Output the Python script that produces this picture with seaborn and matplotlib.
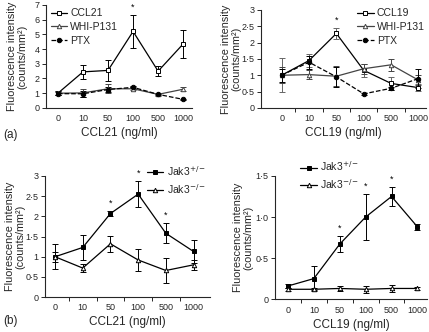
import numpy as np
import pandas as pd
import matplotlib
matplotlib.use("Agg")
import matplotlib.pyplot as plt
import matplotlib.transforms as mtransforms
import seaborn as sns

sns.set_theme(style="ticks")
plt.rcParams["font.family"] = ["Liberation Sans", "DejaVu Sans"]

doses = ["0", "10", "50", "100", "500", "1000"]

# (a) left: CCL21 stimulation
a21_ccl = [1.0, 2.45, 2.55, 5.2, 2.5, 4.35]
a21_ccl_err = [0.15, 0.5, 0.72, 1.12, 0.35, 0.97]
a21_whi = [1.0, 1.02, 1.3, 1.3, 0.92, 1.27]
a21_whi_err = [0.12, 0.28, 0.32, 0.1, 0.08, 0.15]
a21_ptx = [0.97, 0.96, 1.25, 1.4, 0.92, 0.58]
a21_ptx_err = [0.1, 0.2, 0.2, 0.08, 0.05, 0.04]

# (a) right: CCL19 stimulation
a19_ccl = [1.0, 1.45, 2.28, 1.15, 0.75, 0.62]
a19_ccl_err = [0.52, 0.2, 0.18, 0.2, 0.2, 0.1]
a19_whi = [1.0, 1.02, 0.97, 1.2, 1.32, 0.85]
a19_whi_err = [0.25, 0.15, 0.3, 0.15, 0.18, 0.15]
a19_ptx = [1.0, 1.4, 0.95, 0.43, 0.6, 0.9]
a19_ptx_err = [0.2, 0.2, 0.3, 0.03, 0.05, 0.3]

# (b) left: Jak3 genotypes, CCL21
b21_het = [1.0, 1.23, 2.07, 2.55, 1.58, 1.13]
b21_het_err = [0.31, 0.31, 0.07, 0.33, 0.25, 0.29]
b21_ko = [1.0, 0.72, 1.32, 0.92, 0.66, 0.8]
b21_ko_err = [0.12, 0.1, 0.2, 0.27, 0.31, 0.12]

# (b) right: Jak3 genotypes, CCL19
b19_het = [0.16, 0.25, 0.67, 1.0, 1.25, 0.88]
b19_het_err = [0.02, 0.15, 0.1, 0.28, 0.11, 0.04]
b19_ko = [0.12, 0.12, 0.13, 0.12, 0.13, 0.13]
b19_ko_err = [0.02, 0.01, 0.03, 0.04, 0.04, 0.02]

pos = np.arange(len(doses))

fig = plt.figure(figsize=(4.29, 3.32), dpi=100)
ax1 = fig.add_axes([0.107, 0.675, 0.341, 0.31])
ax2 = fig.add_axes([0.608, 0.675, 0.386, 0.295])
ax3 = fig.add_axes([0.105, 0.105, 0.385, 0.365])
ax4 = fig.add_axes([0.641, 0.099, 0.355, 0.371])

TICK_FS = 6.5
XLAB_FS = 8.5
YLAB_FS = 7.8
LEG_FS = 7.5


def series(ax, vals, errs, label, marker, mfc, ls="-", color="black", ms=3.2,
           ecolor=None):
    df = pd.DataFrame({"pos": pos, "val": vals})
    ax.errorbar(pos, vals, yerr=errs, fmt="none", ecolor=ecolor or color,
                elinewidth=0.7, capsize=2, capthick=0.7, zorder=2)
    sns.lineplot(data=df, x="pos", y="val", ax=ax, color=color, lw=0.9,
                 linestyle=ls, marker=marker, markersize=ms, markerfacecolor=mfc,
                 markeredgecolor=color, markeredgewidth=0.7, label=label, zorder=3)


def stars(ax, idxs, vals, errs, pad):
    for i in idxs:
        ax.text(pos[i], vals[i] + errs[i] + pad, "*", ha="center", va="bottom",
                fontsize=6.5, color="black")


def style_axes(ax, xlim, yticks, ylabels, xlabel, boundary_ticks, label_x, xpad):
    ax.set_xlim(*xlim)
    ax.set_ylim(yticks[0], yticks[-1])
    ax.set_yticks(yticks)
    ax.set_yticklabels(ylabels, fontsize=TICK_FS)
    ax.set_xticks(pos)
    ax.set_xticklabels(doses, fontsize=TICK_FS)
    ax.tick_params(axis="x", length=0, pad=xpad)
    ax.tick_params(axis="y", length=3, width=0.7, pad=1.5)
    if boundary_ticks:
        ax.set_xticks(pos[:-1] + 0.5, minor=True)
        ax.tick_params(axis="x", which="minor", length=3, width=0.7)
    ax.set_xlabel(xlabel, fontsize=XLAB_FS, labelpad=3)
    ax.set_ylabel("Fluorescence intensity\n(counts/mm²)", fontsize=YLAB_FS,
                  linespacing=1.05)
    trans = mtransforms.blended_transform_factory(fig.transFigure, ax.transAxes)
    ax.yaxis.set_label_coords(label_x / 429, 0.5, transform=trans)
    for s in ["top", "right"]:
        ax.spines[s].set_visible(False)
    for s in ["left", "bottom"]:
        ax.spines[s].set_linewidth(0.8)


def legend(ax, anchor):
    return ax.legend(loc="upper left", bbox_to_anchor=anchor,
                     bbox_transform=fig.transFigure, frameon=False,
                     fontsize=LEG_FS, handlelength=1.6, handletextpad=0.3,
                     labelspacing=0.35, borderpad=0, borderaxespad=0)


# (a) left
series(ax1, a21_ccl, a21_ccl_err, "CCL21", "s", "white")
series(ax1, a21_whi, a21_whi_err, "WHI-P131", "^", "white", color="#444444")
series(ax1, a21_ptx, a21_ptx_err, "PTX", "o", "black", ls="--")
stars(ax1, [3], a21_ccl, a21_ccl_err, 0.2)
style_axes(ax1, (-0.48, 5.36), [0, 1, 2, 3, 4, 5, 6, 7],
           ["0", "1", "2", "3", "4", "5", "6", "7"], "CCL21 (ng/ml)", False,
           27, 4.5)
legend(ax1, (0.118, 0.975))

# (a) right
series(ax2, a19_ccl, a19_ccl_err, "CCL19", "s", "white", ecolor="#666666")
series(ax2, a19_whi, a19_whi_err, "WHI-P131", "^", "white", color="#444444")
series(ax2, a19_ptx, a19_ptx_err, "PTX", "o", "black", ls="--")
stars(ax2, [2], a19_ccl, a19_ccl_err, 0.08)
style_axes(ax2, (-0.76, 5.29), [0, 0.5, 1, 1.5, 2, 2.5, 3],
           ["0", "0·5", "1", "1·5", "2", "2·5", "3"], "CCL19 (ng/ml)", True,
           241, 4.5)
legend(ax2, (0.832, 0.975))

# (b) left
series(ax3, b21_het, b21_het_err, "Jak3$^{+/-}$", "s", "black")
series(ax3, b21_ko, b21_ko_err, "Jak3$^{-/-}$", "^", "white")
stars(ax3, [2, 3, 4], b21_het, b21_het_err, 0.08)
style_axes(ax3, (-0.36, 5.6), [0, 0.5, 1, 1.5, 2, 2.5, 3],
           ["0", "0·5", "1", "1·5", "2", "2·5", "3"], "CCL21 (ng/ml)", True,
           25.5, 4.0)
legend(ax3, (0.342, 0.505))

# (b) right
series(ax4, b19_het, b19_het_err, "Jak3$^{+/-}$", "s", "black")
series(ax4, b19_ko, b19_ko_err, "Jak3$^{-/-}$", "^", "white")
stars(ax4, [2, 3, 4], b19_het, b19_het_err, 0.04)
style_axes(ax4, (-0.5, 5.38), [0, 0.5, 1.0, 1.5],
           ["0", "0·5", "1·0", "1·5"], "CCL19 (ng/ml)", True,
           253, 5.0)
legend(ax4, (0.70, 0.52))

fig.text(0.008, 0.593, "(a)", fontsize=XLAB_FS, va="center", ha="left")
fig.text(0.008, 0.033, "(b)", fontsize=XLAB_FS, va="center", ha="left")

fig.savefig("out.png", dpi=100)
